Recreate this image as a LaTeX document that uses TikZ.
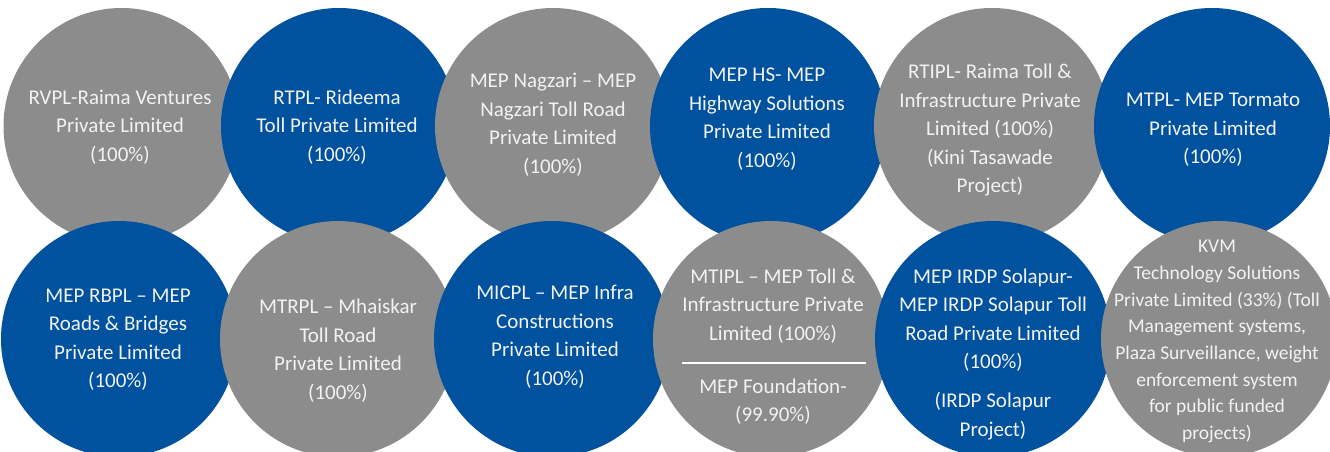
\documentclass[tikz,border=0pt]{standalone}
\usepackage{fontspec}
\setmainfont{Carlito}
\usetikzlibrary{positioning}

\definecolor{mepgray}{HTML}{8C8C8C}
\definecolor{mepblue}{HTML}{00519E}
\definecolor{lblwhite}{HTML}{F2F2F2}

\tikzset{
  disc/.style={circle, minimum size=236pt, inner sep=0pt},
  gdisc/.style={disc, fill=mepgray},
  bdisc/.style={disc, fill=mepblue},
  lbl/.style={align=center, text=lblwhite, inner sep=0pt,
    font=\fontsize{21}{28.5}\selectfont},
  kvmlbl/.style={lbl, font=\fontsize{19.5}{26.7}\selectfont},
}

\begin{document}
\begin{tikzpicture}[x=1pt,y=-1pt]
    \useasboundingbox (0,0) rectangle (1330,451);
    \clip (0,0) rectangle (1330,451);

    % top row
    \node[gdisc] (rvpl)   at (121.5,126) {};
    \node[bdisc] (rtpl)   at (339,126) {};
    \node[gdisc] (nagz)   at (553,126) {};
    \node[bdisc] (mephs)  at (768,126) {};
    \node[gdisc] (rtipl)  at (992,126) {};
    \node[bdisc] (mtpl)   at (1212,126) {};

    % bottom row
    \node[bdisc] (rbpl)   at (119,339) {};
    \node[gdisc] (mtrpl)  at (338,339) {};
    \node[bdisc] (micpl)  at (552,339) {};
    \node[gdisc] (mtipl)  at (771,339) {};
    \node[bdisc] (irdp)   at (993,339) {};
    \node[gdisc] (kvm)    at (1219,339) {};

    % labels, top row
    \node[lbl] (rvpl-t)  at (120,127)   {RVPL-Raima Ventures\\Private Limited\\(100\%)};
    \node[lbl] (rtpl-t)  at (337,127)   {RTPL- Rideema\\Toll Private Limited\\(100\%)};
    \node[lbl] (nagz-t)  at (553,124.5) {MEP Nagzari -- MEP\\Nagzari Toll Road\\Private Limited\\(100\%)};
    \node[lbl] (mephs-t) at (767,119)   {MEP HS- MEP\\Highway Solutions\\Private Limited\\(100\%)};
    \node[lbl] (rtipl-t) at (990,130.5) {RTIPL- Raima Toll \&\\Infrastructure Private\\Limited (100\%)\\(Kini Tasawade\\Project)};
    \node[lbl] (mtpl-t)  at (1213,130)  {MTPL- MEP Tormato\\Private Limited\\(100\%)};

    % labels, bottom row
    \node[lbl] (rbpl-t)  at (118,339.5) {MEP RBPL -- MEP\\Roads \& Bridges\\Private Limited\\(100\%)};
    \node[lbl] (mtrpl-t) at (338,350.5) {MTRPL -- Mhaiskar\\Toll Road\\Private Limited\\(100\%)};
    \node[lbl] (micpl-t) at (555,336.5) {MICPL -- MEP Infra\\Constructions\\Private Limited\\(100\%)};
    \node[lbl] (mtipl-t) at (773,306)   {MTIPL -- MEP Toll \&\\Infrastructure Private\\Limited (100\%)};
    \node[lbl] (found-t) at (773,401.5) {MEP Foundation-\\(99.90\%)};
    \node[lbl] (irdp-t)  at (993,320)   {MEP IRDP Solapur-\\MEP IRDP Solapur Toll\\Road Private Limited\\(100\%)};
    \node[lbl] (proj-t)  at (993,416)   {(IRDP Solapur\\Project)};
    \node[kvmlbl] (kvm-t) at (1217,341.5) {KVM\\Technology Solutions\\Private Limited (33\%) (Toll\\Management systems,\\Plaza Surveillance, weight\\enforcement system\\for public funded\\projects)};

    % separator inside MTIPL
    \coordinate (sep-l) at (682,363);
    \coordinate (sep-r) at (866,363);
    \draw[white, line width=2.5pt] (sep-l) -- (sep-r);
\end{tikzpicture}
\end{document}
